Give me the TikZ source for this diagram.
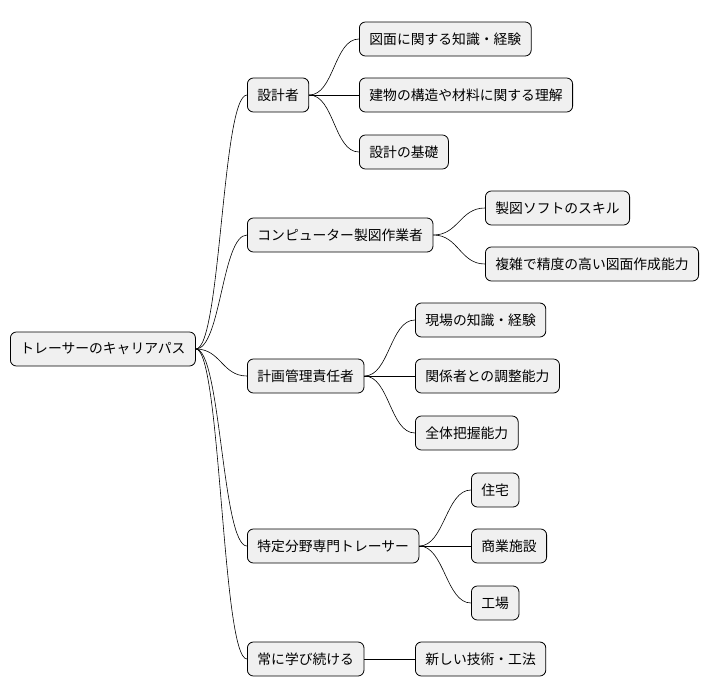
\documentclass[tikz,border=0pt]{standalone}
\usepackage{fontspec}
\setmainfont{Noto Sans CJK JP}
\begin{document}
\begin{tikzpicture}[x=1pt,y=-1pt,
  n/.style={draw=black,fill=black!6,rounded corners=6pt,minimum height=34pt,inner xsep=10pt,anchor=west,font=\fontsize{13.8}{16}\selectfont,line width=0.8pt},
  c/.style={line width=0.6pt}]
\useasboundingbox (0,0) rectangle (712,696);
\node[n] (r) at (10,349) {トレーサーのキャリアパス};
\node[n] (a) at (247,95) {設計者};
\node[n] (b) at (247,235) {コンピューター製図作業者};
\node[n] (cc) at (247,376) {計画管理責任者};
\node[n] (d) at (247,546) {特定分野専門トレーサー};
\node[n] (e) at (247,659) {常に学び続ける};
\node[n] (a1) at (359,39) {図面に関する知識・経験};
\node[n] (a2) at (359,95) {建物の構造や材料に関する理解};
\node[n] (a3) at (359,152) {設計の基礎};
\node[n] (b1) at (485,208) {製図ソフトのスキル};
\node[n] (b2) at (485,264) {複雑で精度の高い図面作成能力};
\node[n] (c1) at (415,320) {現場の知識・経験};
\node[n] (c2) at (415,376) {関係者との調整能力};
\node[n] (c3) at (415,433) {全体把握能力};
\node[n] (d1) at (471,490) {住宅};
\node[n] (d2) at (471,546) {商業施設};
\node[n] (d3) at (471,603) {工場};
\node[n] (e1) at (415,659) {新しい技術・工法};
\foreach \p/\ch in {r/a,r/b,r/cc,r/d,r/e,a/a1,a/a2,a/a3,b/b1,b/b2,cc/c1,cc/c2,cc/c3,d/d1,d/d2,d/d3,e/e1}
  \draw[c] (\p.east) .. controls +(25,0) and +(-25,0) .. (\ch.west);
\end{tikzpicture}
\end{document}
